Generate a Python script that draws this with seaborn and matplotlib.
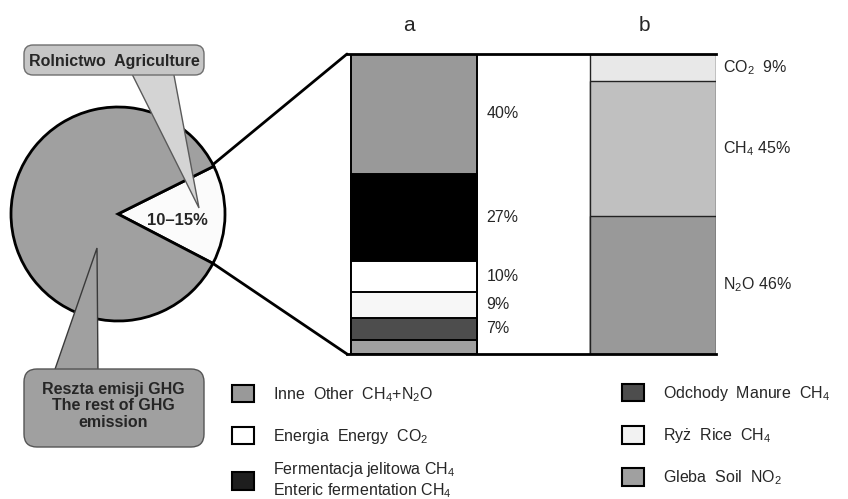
import numpy as np
import pandas as pd
import matplotlib.pyplot as plt
import seaborn as sns
from matplotlib.patches import FancyBboxPatch, Polygon, Patch, ConnectionPatch
from matplotlib.transforms import ScaledTranslation

# --- data -------------------------------------------------------------
pie_values = [15, 85]
pie_labels = ["10\u201315%", ""]
pie_colors = ["#fbfbfb", "#a0a0a0"]

bars = ["a", "b"]
# bar a, top -> bottom
a_values = [40, 29, 10.3, 8.7, 7.3, 4.7]
a_labels = ["40%", "27%", "10%", "9%", "7%", ""]
a_colors = ["#999999", "#000000", "#ffffff", "#f7f7f7", "#4d4d4d", "#a0a0a0"]
# bar b, top -> bottom
b_values = [9, 45, 46]
b_labels = ["CO$_2$  9%", "CH$_4$ 45%", "N$_2$O 46%"]
b_colors = ["#e8e8e8", "#c0c0c0", "#999999"]

legend_left = ["Inne  Other  CH$_4$+N$_2$O", "Energia  Energy  CO$_2$"]
legend_left_colors = ["#999999", "#ffffff"]
legend_left2 = ["Fermentacja jelitowa CH$_4$\nEnteric fermentation CH$_4$"]
legend_left2_colors = ["#1e1e1e"]
legend_right = ["Odchody  Manure  CH$_4$", "Ry\u017c  Rice  CH$_4$", "Gleba  Soil  NO$_2$"]
legend_right_colors = ["#4d4d4d", "#f2f2f2", "#a0a0a0"]

sns.set_theme(style="white")
plt.rcParams['font.family'] = ['Liberation Sans', 'DejaVu Sans']
plt.rcParams['mathtext.fontset'] = 'custom'
plt.rcParams['mathtext.rm'] = 'Liberation Sans'
plt.rcParams['mathtext.it'] = 'Liberation Sans'
plt.rcParams['mathtext.bf'] = 'Liberation Sans:bold'
plt.rcParams['mathtext.default'] = 'regular'

W, H = 848, 499
fig = plt.figure(figsize=(W/100, H/100), dpi=100)
fig.set_facecolor("white")

def box(l, t, r, b):
    return [l/W, 1-b/H, (r-l)/W, (b-t)/H]

# --- pie ----------------------------------------------------------------
cx, cy, rad = 118, 214, 107
lim = 1.03
axp = fig.add_axes(box(cx-rad*lim, cy-rad*lim, cx+rad*lim, cy+rad*lim))
wedges, texts = axp.pie(pie_values, labels=pie_labels, colors=pie_colors,
                        startangle=-27.5, labeldistance=0.56,
                        wedgeprops=dict(edgecolor="black", linewidth=2),
                        textprops=dict(fontsize=12, fontweight="bold"))
texts[0].set_ha("center")
texts[0].set_position((0.56, -0.06))
axp.set_xlim(-lim, lim)
axp.set_ylim(-lim, lim)
axp.set_aspect("equal")
axp.axis("off")

# --- stacked bars -------------------------------------------------------
axb = fig.add_axes(box(347, 54, 716, 354))
bw = 0.527

def stack(ax, name, values, colors, labels, lw, ec, dx):
    for i in range(len(values)):
        top = sum(values[i:])
        sns.barplot(x=[name], y=[top], order=bars, color=colors[i], width=bw,
                    saturation=1, edgecolor=ec, linewidth=lw, ax=ax)
        if labels[i]:
            mid = sum(values[i+1:]) + values[i]/2
            ax.annotate(labels[i], xy=(bars.index(name) + bw/2, mid),
                        xytext=(dx, 0), textcoords="offset points",
                        va="center", ha="left", fontsize=11.5,
                        annotation_clip=False)

stack(axb, "a", a_values, a_colors, a_labels, 1.4, "black", 7)
stack(axb, "b", b_values, b_colors, b_labels, 1.0, "#222222", 5)

axb.set_xlim(-0.280, 1.264)
axb.set_ylim(0, 100)
axb.set_xlabel("")
axb.set_ylabel("")
axb.set_yticks([])
axb.xaxis.tick_top()
axb.tick_params(axis="x", length=0, pad=14, labelsize=15)
for lbl, sh in zip(axb.get_xticklabels(), [-5, -8]):
    lbl.set_transform(lbl.get_transform() + ScaledTranslation(sh/100, 0, fig.dpi_scale_trans))
for s in ["left", "right"]:
    axb.spines[s].set_visible(False)
for s in ["top", "bottom"]:
    axb.spines[s].set_color("black")
    axb.spines[s].set_linewidth(2)
axb.set_facecolor("none")

# connectors from pie wedge to bar a
for ang, yb in [(27.5, 1), (-27.5, 0)]:
    a = np.deg2rad(ang)
    con = ConnectionPatch(xyA=(np.cos(a), np.sin(a)), coordsA=axp.transData,
                          xyB=(0, yb), coordsB=axb.transAxes,
                          color="black", linewidth=2)
    fig.add_artist(con)

# --- callouts -----------------------------------------------------------
axo = fig.add_axes([0, 0, 1, 1])
axo.set_xlim(0, W)
axo.set_ylim(H, 0)
axo.axis("off")

axo.add_patch(Polygon([(130, 70), (173, 70), (199, 208)], closed=True,
                      facecolor="#d4d4d4", edgecolor="#5a5a5a", linewidth=1, zorder=2))
axo.add_patch(FancyBboxPatch((24, 45), 180, 30, boxstyle="round,pad=0,rounding_size=9",
                             facecolor="#c6c6c6", edgecolor="#6e6e6e", linewidth=1, zorder=3))
axo.text(114, 61, "Rolnictwo  Agriculture", ha="center", va="center",
         fontsize=11.5, fontweight="bold", zorder=4)

axo.add_patch(Polygon([(53, 375), (98, 375), (97, 248)], closed=True,
                      facecolor="#a0a0a0", edgecolor="#3a3a3a", linewidth=1, zorder=2))
axo.add_patch(FancyBboxPatch((24, 369), 180, 78, boxstyle="round,pad=0,rounding_size=13",
                             facecolor="#a0a0a0", edgecolor="#555555", linewidth=1, zorder=3))
axo.text(113, 406, "Reszta emisji GHG\nThe rest of GHG\nemission", ha="center", va="center",
         fontsize=11.5, fontweight="bold", linespacing=1.15, zorder=4)

# --- legends ------------------------------------------------------------
def make_legend(labels, colors, x, y, **kw):
    handles = [Patch(facecolor=c, edgecolor="black", linewidth=1.5) for c in colors]
    return fig.legend(handles, labels, loc="upper left", bbox_to_anchor=(x/W, 1-y/H),
                      frameon=False, fontsize=11.5, handlelength=1.35, handleheight=1.3,
                      handletextpad=1.2, labelspacing=1.45, borderpad=0, borderaxespad=0,
                      **kw)

make_legend(legend_left, legend_left_colors, 232, 385)
make_legend(legend_left2, legend_left2_colors, 232, 460, prop=dict(size=11.5))
make_legend(legend_right, legend_right_colors, 622, 384)

fig.savefig("out.png", dpi=100, facecolor="white")
